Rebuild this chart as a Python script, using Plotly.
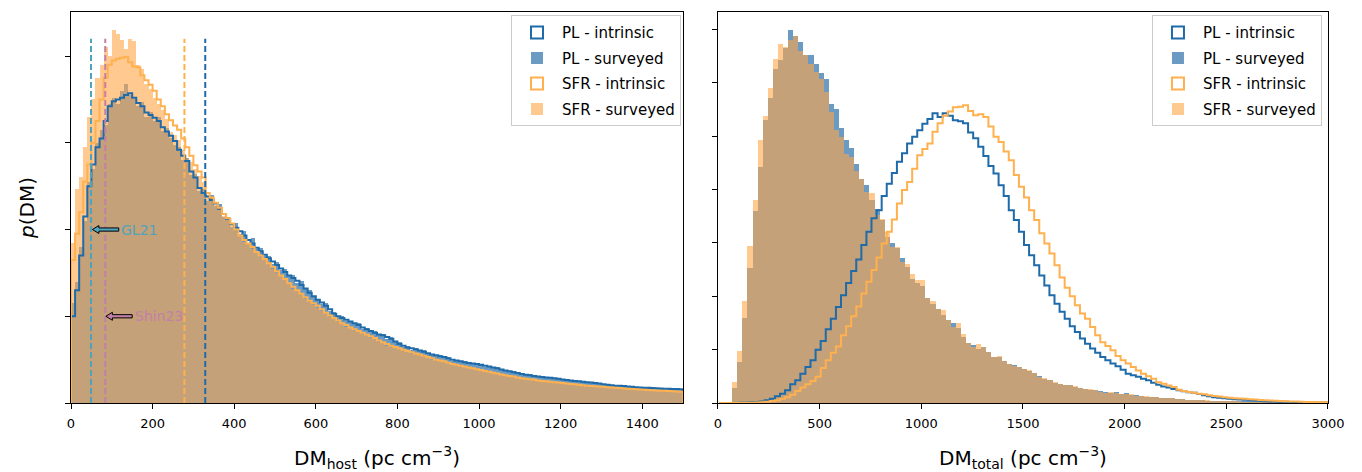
import plotly.graph_objects as go

# ---------------- data (y in tick units) ----------------
# Left panel: DM_host, bins of width 10 starting at 0
host_start = 0.0
host_width = 10.0

pl_int_host = [
    1.0, 1.3, 1.7, 2.15, 2.5, 2.75, 2.95, 3.05, 3.25, 3.42,
    3.48, 3.5, 3.52, 3.55, 3.57, 3.52, 3.46, 3.42, 3.35, 3.32,
    3.29, 3.25, 3.18, 3.13, 3.08, 3.02, 2.92, 2.85, 2.79, 2.67,
    2.6, 2.48, 2.42, 2.38, 2.34, 2.3, 2.24, 2.18, 2.12, 2.06,
    2.02, 1.98, 1.93, 1.88, 1.84, 1.79, 1.75, 1.71, 1.67, 1.63,
    1.59, 1.55, 1.51, 1.47, 1.44, 1.41, 1.36, 1.32, 1.27, 1.23,
    1.19, 1.16, 1.12, 1.08, 1.03, 1.0, 0.98, 0.96, 0.94, 0.92,
    0.9, 0.87, 0.85, 0.83, 0.81, 0.79, 0.78, 0.76, 0.74, 0.71,
    0.68, 0.66, 0.64, 0.63, 0.62, 0.605, 0.59, 0.575, 0.56, 0.55,
    0.54, 0.53, 0.515, 0.5, 0.49, 0.48, 0.47, 0.46, 0.455, 0.45,
    0.44, 0.43, 0.42, 0.41, 0.4, 0.385, 0.375, 0.365, 0.355, 0.345,
    0.335, 0.325, 0.32, 0.31, 0.305, 0.3, 0.295, 0.29, 0.285, 0.28,
    0.27, 0.265, 0.26, 0.255, 0.25, 0.245, 0.24, 0.235, 0.23, 0.225,
    0.215, 0.21, 0.205, 0.2, 0.198, 0.195, 0.19, 0.187, 0.183, 0.18,
    0.177, 0.175, 0.172, 0.17, 0.167, 0.165, 0.163, 0.162, 0.16, 0.158,
]
pl_surv_host = [
    1.15, 1.4, 1.8, 2.1, 2.55, 2.7, 3.0, 3.15, 3.2, 3.45,
    3.52, 3.45, 3.6, 3.68, 3.55, 3.5, 3.42, 3.47, 3.3, 3.36,
    3.25, 3.3, 3.14, 3.17, 3.05, 2.98, 2.95, 2.8, 2.83, 2.63,
    2.64, 2.45, 2.47, 2.33, 2.4, 2.27, 2.3, 2.15, 2.14, 2.03,
    2.07, 1.95, 1.98, 1.84, 1.9, 1.77, 1.79, 1.69, 1.7, 1.6,
    1.63, 1.53, 1.54, 1.46, 1.48, 1.38, 1.41, 1.31, 1.3, 1.22,
    1.2, 1.14, 1.15, 1.06, 1.05, 0.99, 1.0, 0.94, 0.95, 0.91,
    0.92, 0.85, 0.87, 0.82, 0.83, 0.78, 0.8, 0.74, 0.76, 0.7,
    0.7, 0.65, 0.66, 0.61, 0.63, 0.6, 0.61, 0.56, 0.57, 0.54,
    0.55, 0.52, 0.53, 0.49, 0.5, 0.47, 0.48, 0.45, 0.46, 0.44,
    0.45, 0.42, 0.43, 0.4, 0.41, 0.38, 0.385, 0.36, 0.365, 0.34,
    0.345, 0.32, 0.33, 0.305, 0.31, 0.295, 0.3, 0.285, 0.29, 0.275,
    0.275, 0.26, 0.265, 0.25, 0.255, 0.24, 0.245, 0.23, 0.235, 0.22,
    0.22, 0.205, 0.21, 0.195, 0.2, 0.19, 0.195, 0.183, 0.185, 0.176,
    0.18, 0.172, 0.175, 0.167, 0.17, 0.162, 0.165, 0.158, 0.161, 0.155,
]
sfr_int_host = [
    1.65, 1.95, 2.2, 2.55, 2.75, 3.0, 3.25, 3.5, 3.75, 3.9,
    3.95, 3.97, 3.98, 3.99, 3.93, 3.88, 3.87, 3.78, 3.72, 3.67,
    3.6, 3.5, 3.42, 3.33, 3.26, 3.2, 3.15, 3.05, 2.95, 2.85,
    2.74, 2.67, 2.6, 2.42, 2.37, 2.31, 2.25, 2.18, 2.13, 2.07,
    2.0, 1.93, 1.88, 1.84, 1.8, 1.74, 1.7, 1.66, 1.61, 1.57,
    1.52, 1.47, 1.43, 1.38, 1.34, 1.3, 1.26, 1.22, 1.18, 1.15,
    1.12, 1.08, 1.04, 1.01, 0.98, 0.95, 0.92, 0.9, 0.87, 0.85,
    0.83, 0.81, 0.79, 0.77, 0.75, 0.72, 0.7, 0.68, 0.66, 0.645,
    0.63, 0.615, 0.6, 0.585, 0.57, 0.56, 0.545, 0.53, 0.515, 0.5,
    0.49, 0.48, 0.465, 0.45, 0.44, 0.43, 0.42, 0.41, 0.4, 0.39,
    0.38, 0.37, 0.36, 0.35, 0.34, 0.33, 0.32, 0.31, 0.305, 0.295,
    0.285, 0.28, 0.275, 0.27, 0.26, 0.255, 0.25, 0.245, 0.24, 0.235,
    0.23, 0.225, 0.22, 0.215, 0.21, 0.205, 0.2, 0.197, 0.193, 0.19,
    0.186, 0.183, 0.18, 0.176, 0.172, 0.168, 0.165, 0.162, 0.158, 0.155,
    0.152, 0.15, 0.147, 0.145, 0.142, 0.14, 0.137, 0.135, 0.132, 0.13,
]
sfr_surv_host = [
    1.84, 2.47, 2.6, 2.95, 3.3, 3.5, 3.75, 3.9, 4.1, 4.0,
    4.3, 4.25, 4.18, 4.08, 4.2, 4.17, 3.9, 3.85, 3.68, 3.62,
    3.52, 3.45, 3.38, 3.28, 3.13, 3.09, 3.03, 2.92, 2.82, 2.78,
    2.7, 2.62, 2.55, 2.4, 2.36, 2.28, 2.24, 2.16, 2.12, 2.05,
    1.98, 1.92, 1.86, 1.83, 1.78, 1.73, 1.68, 1.65, 1.6, 1.55,
    1.5, 1.46, 1.42, 1.37, 1.32, 1.29, 1.25, 1.2, 1.17, 1.13,
    1.1, 1.06, 1.03, 0.99, 0.97, 0.93, 0.91, 0.88, 0.86, 0.83,
    0.82, 0.79, 0.78, 0.75, 0.74, 0.7, 0.69, 0.66, 0.65, 0.63,
    0.62, 0.6, 0.59, 0.57, 0.56, 0.55, 0.53, 0.52, 0.5, 0.49,
    0.48, 0.47, 0.455, 0.44, 0.43, 0.42, 0.41, 0.4, 0.39, 0.38,
    0.37, 0.365, 0.35, 0.345, 0.33, 0.325, 0.31, 0.305, 0.3, 0.29,
    0.28, 0.275, 0.27, 0.26, 0.255, 0.25, 0.245, 0.24, 0.232, 0.23,
    0.225, 0.22, 0.215, 0.21, 0.205, 0.2, 0.196, 0.193, 0.19, 0.186,
    0.182, 0.18, 0.176, 0.172, 0.17, 0.165, 0.162, 0.16, 0.155, 0.152,
    0.15, 0.147, 0.145, 0.142, 0.14, 0.137, 0.135, 0.132, 0.13, 0.128,
]

# Right panel: DM_total
surv_start = 45.0
surv_width = 25.0
pl_surv_total = [
    0.005, 0.275, 0.77, 1.59, 2.53, 3.6, 4.42, 5.3, 5.71, 6.26,
    6.42, 6.65, 6.99, 6.88, 6.76, 6.52, 6.52, 6.36, 6.19, 6.08,
    5.61, 5.5, 5.16, 4.92, 4.78, 4.47, 4.19, 4.08, 3.8, 3.64,
    3.42, 3.11, 2.99, 2.9, 2.72, 2.55, 2.33, 2.24, 2.19, 1.96,
    1.86, 1.77, 1.64, 1.56, 1.49, 1.4, 1.24, 1.12, 1.08, 1.02,
    1.04, 0.96, 0.86, 0.86, 0.78, 0.74, 0.72, 0.67, 0.64, 0.6,
    0.57, 0.5, 0.45, 0.43, 0.38, 0.36, 0.33, 0.33, 0.3, 0.29,
    0.27, 0.25, 0.24, 0.22, 0.2, 0.19, 0.2, 0.17, 0.18, 0.155,
    0.145, 0.13, 0.12, 0.115, 0.105, 0.1, 0.09, 0.09, 0.078, 0.07,
    0.065, 0.058, 0.05, 0.052, 0.045, 0.043, 0.04, 0.036, 0.034, 0.032,
    0.03, 0.027, 0.026, 0.024, 0.022, 0.021, 0.02, 0.018, 0.017, 0.016,
    0.014, 0.013, 0.012, 0.012, 0.01, 0.01, 0.009, 0.008,
]
sfr_surv_total = [
    0.01, 0.39, 0.97, 1.91, 2.94, 3.8, 4.92, 5.37, 5.9, 6.44,
    6.72, 6.67, 6.8, 6.88, 6.6, 6.52, 6.36, 6.2, 6.08, 5.83,
    5.46, 5.11, 4.99, 4.67, 4.61, 4.34, 4.19, 3.96, 3.94, 3.52,
    3.45, 3.2, 2.93, 2.93, 2.64, 2.6, 2.42, 2.3, 2.3, 1.96,
    1.91, 1.77, 1.74, 1.56, 1.42, 1.49, 1.29, 1.12, 1.05, 1.1,
    1.04, 0.96, 0.86, 0.875, 0.78, 0.74, 0.69, 0.675, 0.63, 0.61,
    0.56, 0.49, 0.46, 0.425, 0.39, 0.35, 0.33, 0.34, 0.31, 0.29,
    0.27, 0.256, 0.24, 0.21, 0.19, 0.2, 0.19, 0.175, 0.175, 0.16,
    0.14, 0.13, 0.125, 0.11, 0.11, 0.1, 0.094, 0.088, 0.075, 0.07,
    0.062, 0.056, 0.055, 0.05, 0.047, 0.044, 0.04, 0.038, 0.035, 0.033,
    0.03, 0.028, 0.027, 0.025, 0.023, 0.022, 0.02, 0.019, 0.018, 0.016,
    0.015, 0.014, 0.013, 0.012, 0.011, 0.01, 0.01, 0.009,
]
int_start = 5.0
int_width = 25.0
pl_int_total = [
    0, 0, 0.001, 0.002, 0.003, 0.006, 0.012, 0.02, 0.03, 0.05,
    0.08, 0.125, 0.175, 0.24, 0.35, 0.425, 0.55, 0.675, 0.8, 1.0,
    1.16, 1.38, 1.58, 1.8, 2.02, 2.25, 2.475, 2.69, 2.96, 3.21,
    3.46, 3.61, 3.88, 4.11, 4.31, 4.52, 4.68, 4.86, 4.99, 5.11,
    5.23, 5.32, 5.43, 5.36, 5.43, 5.38, 5.3, 5.28, 5.24, 5.07,
    4.96, 4.8, 4.63, 4.44, 4.3, 4.08, 3.88, 3.61, 3.43, 3.21,
    2.96, 2.77, 2.58, 2.39, 2.2, 2.02, 1.86, 1.71, 1.58, 1.44,
    1.33, 1.21, 1.11, 1.02, 0.94, 0.86, 0.8, 0.74, 0.69, 0.625,
    0.55, 0.52, 0.49, 0.456, 0.425, 0.38, 0.344, 0.31, 0.29, 0.26,
    0.24, 0.22, 0.2, 0.19, 0.17, 0.144, 0.125, 0.11, 0.1, 0.09,
    0.08, 0.07, 0.065, 0.06, 0.05, 0.045, 0.04, 0.035, 0.03, 0.028,
    0.025, 0.022, 0.02, 0.018, 0.016, 0.014, 0.012, 0.01, 0.01, 0.008,
]
sfr_int_total = [
    0, 0, 0, 0, 0.001, 0.002, 0.003, 0.008, 0.015, 0.025,
    0.037, 0.05, 0.08, 0.11, 0.156, 0.225, 0.29, 0.35, 0.41, 0.49,
    0.656, 0.8, 0.94, 1.06, 1.27, 1.44, 1.625, 1.81, 2.05, 2.27,
    2.49, 2.725, 2.99, 3.21, 3.44, 3.74, 3.99, 4.14, 4.39, 4.64,
    4.76, 4.86, 5.08, 5.24, 5.38, 5.46, 5.54, 5.55, 5.58, 5.47,
    5.39, 5.41, 5.36, 5.18, 4.99, 4.89, 4.71, 4.55, 4.27, 4.05,
    3.85, 3.61, 3.43, 3.18, 2.99, 2.8, 2.58, 2.35, 2.16, 2.0,
    1.83, 1.675, 1.58, 1.425, 1.27, 1.14, 1.07, 0.99, 0.88, 0.8,
    0.74, 0.675, 0.61, 0.55, 0.5, 0.456, 0.39, 0.36, 0.33, 0.3,
    0.25, 0.225, 0.206, 0.194, 0.175, 0.163, 0.144, 0.131, 0.12, 0.11,
    0.1, 0.09, 0.085, 0.078, 0.07, 0.065, 0.058, 0.052, 0.047, 0.042,
    0.038, 0.034, 0.03, 0.027, 0.024, 0.021, 0.019, 0.017, 0.015, 0.013,
]

# reference DM_host values (vertical dashed lines) and their top
ref_names = ["GL21", "Shin23", "SFR", "PL"]
ref_values = [49, 84, 278, 329]
ref_top = 4.2
# annotation labels with arrows pointing at the GL21 / Shin23 lines
label_texts = ["GL21", "Shin23"]
label_y = [2.0, 1.0]
label_head = [52.5, 85.5]
label_tail = [117, 150]

legend_names = ["PL - intrinsic", "PL - surveyed", "SFR - intrinsic", "SFR - surveyed"]

# ---------------- styles ----------------
FONT = "DejaVu Sans"
BLUE_LINE = "#1f6aa8"
BLUE_FILL = "rgb(107,155,195)"
ORANGE_LINE = "#ffb04f"
ORANGE_FILL = "rgba(255,165,70,0.6)"
ORANGE_FILL_SOLID = "rgb(253,201,143)"
TEAL = "#4fa3bd"
PINK = "#c47fa8"

# pixel -> data conversion factors for the left panel arrow glyphs
X_PER_PX = 1500 / 612.0
Y_PER_PX = 4.508 / 391.0


def centers(start, width, vals):
    return [start + width * (i + 0.5) for i in range(len(vals))]


def step_xy(start, width, vals):
    n = len(vals)
    edges = [start + width * i for i in range(n + 1)]
    xs = [edges[0]] + edges[:n] + [edges[n], edges[n]]
    ys = [0] + list(vals) + [vals[-1], 0]
    return xs, ys


def arrow_path(head, tail, yv):
    hl = 6.5 * X_PER_PX
    sw = 1.6 * Y_PER_PX
    hw = 4.0 * Y_PER_PX
    pts = [(tail, yv + sw), (head + hl, yv + sw), (head + hl, yv + hw), (head, yv),
           (head + hl, yv - hw), (head + hl, yv - sw), (tail, yv - sw)]
    return "M " + " L ".join(f"{x:.3f},{y:.4f}" for x, y in pts) + " Z"


fig = go.Figure()

panels = [
    dict(xa="x", ya="y", bar_start=host_start, bar_w=host_width, int_start=host_start, int_w=host_width,
         pl_surv=pl_surv_host, sfr_surv=sfr_surv_host, pl_int=pl_int_host, sfr_int=sfr_int_host, legend="legend"),
    dict(xa="x2", ya="y2", bar_start=surv_start, bar_w=surv_width, int_start=int_start, int_w=int_width,
         pl_surv=pl_surv_total, sfr_surv=sfr_surv_total, pl_int=pl_int_total, sfr_int=sfr_int_total, legend="legend2"),
]

for p in panels:
    fig.add_trace(go.Bar(x=centers(p["bar_start"], p["bar_w"], p["pl_surv"]), y=p["pl_surv"],
                         width=p["bar_w"], marker=dict(color=BLUE_FILL, line=dict(width=0)),
                         xaxis=p["xa"], yaxis=p["ya"], showlegend=False, hoverinfo="skip"))
    fig.add_trace(go.Bar(x=centers(p["bar_start"], p["bar_w"], p["sfr_surv"]), y=p["sfr_surv"],
                         width=p["bar_w"], marker=dict(color=ORANGE_FILL, line=dict(width=0)),
                         xaxis=p["xa"], yaxis=p["ya"], showlegend=False, hoverinfo="skip"))
    sx, sy = step_xy(p["int_start"], p["int_w"], p["pl_int"])
    fig.add_trace(go.Scatter(x=sx, y=sy, mode="lines", line=dict(color=BLUE_LINE, width=2, shape="hv"),
                             xaxis=p["xa"], yaxis=p["ya"], showlegend=False, hoverinfo="skip"))
    sx, sy = step_xy(p["int_start"], p["int_w"], p["sfr_int"])
    fig.add_trace(go.Scatter(x=sx, y=sy, mode="lines", line=dict(color=ORANGE_LINE, width=2, shape="hv"),
                             xaxis=p["xa"], yaxis=p["ya"], showlegend=False, hoverinfo="skip"))
    # legend entries
    styles = [
        dict(color="white", line=dict(color=BLUE_LINE, width=2)),
        dict(color=BLUE_FILL, line=dict(width=0)),
        dict(color="white", line=dict(color=ORANGE_LINE, width=2)),
        dict(color=ORANGE_FILL_SOLID, line=dict(width=0)),
    ]
    for i, (nm, st) in enumerate(zip(legend_names, styles)):
        fig.add_trace(go.Bar(x=[None], y=[None], name=nm, marker=st, xaxis=p["xa"], yaxis=p["ya"],
                             legend=p["legend"], legendgroup=p["legend"] + str(i), showlegend=True))

# dashed reference lines (left panel)
ref_colors = [TEAL, PINK, ORANGE_LINE, BLUE_LINE]
for v, c in zip(ref_values, ref_colors):
    fig.add_trace(go.Scatter(x=[v, v], y=[0, ref_top], mode="lines",
                             line=dict(color=c, width=2, dash="6px,3px"),
                             xaxis="x", yaxis="y", showlegend=False, hoverinfo="skip"))

annos = []
shapes = []
for t, yv, hx, tx, c in zip(label_texts, label_y, label_head, label_tail, [TEAL, PINK]):
    shapes.append(dict(type="path", xref="x", yref="y", path=arrow_path(hx, tx, yv),
                       fillcolor=c, line=dict(color="black", width=1), layer="above"))
    annos.append(dict(x=tx + 1, y=yv, xref="x", yref="y", text=t, showarrow=False, xanchor="left",
                      yanchor="middle", font=dict(family=FONT, size=14, color=c)))

axis_common = dict(showline=True, linecolor="black", linewidth=1.3, mirror=True,
                   ticks="outside", ticklen=5, tickwidth=1, tickcolor="black",
                   showgrid=False, zeroline=False, automargin=False,
                   tickfont=dict(family=FONT, size=13, color="black"))

legend_common = dict(yanchor="top", xanchor="right", bgcolor="white", bordercolor="#cccccc",
                     borderwidth=1, font=dict(family=FONT, size=15), tracegroupgap=3, itemwidth=40)

fig.update_layout(
    width=1362, height=472,
    margin=dict(l=71, r=34, t=12, b=69, autoexpand=False),
    paper_bgcolor="white", plot_bgcolor="white",
    barmode="overlay", bargap=0,
    font=dict(family=FONT, color="black"),
    annotations=annos,
    shapes=shapes,
    xaxis=dict(domain=[0, 0.4869], range=[0, 1500], tickvals=[0, 200, 400, 600, 800, 1000, 1200, 1400],
               title=dict(text="DM<sub>host</sub> (pc cm<sup>−3</sup>)", font=dict(size=20), standoff=22),
               ticklabelstandoff=3, **axis_common),
    yaxis=dict(domain=[0, 1], range=[0, 4.508], tickvals=[0, 1, 2, 3, 4], showticklabels=False,
               title=dict(text="<i>p</i>(DM)", font=dict(size=20), standoff=24), **axis_common),
    xaxis2=dict(domain=[0.5147, 1], range=[0, 3000], tickvals=[0, 500, 1000, 1500, 2000, 2500, 3000],
                anchor="y2",
                title=dict(text="DM<sub>total</sub> (pc cm<sup>−3</sup>)", font=dict(size=20), standoff=22),
                ticklabelstandoff=3, **axis_common),
    yaxis2=dict(domain=[0, 1], range=[0, 7.326], tickvals=[0, 1, 2, 3, 4, 5, 6, 7], showticklabels=False,
                anchor="x2", **axis_common),
    legend=dict(x=0.4853, y=0.992, **legend_common),
    legend2=dict(x=0.9952, y=0.992, **legend_common),
)

fig.write_html("out.html", config={"displayModeBar": False},
               post_script="document.body.style.margin='0px';document.body.style.padding='0px';")
